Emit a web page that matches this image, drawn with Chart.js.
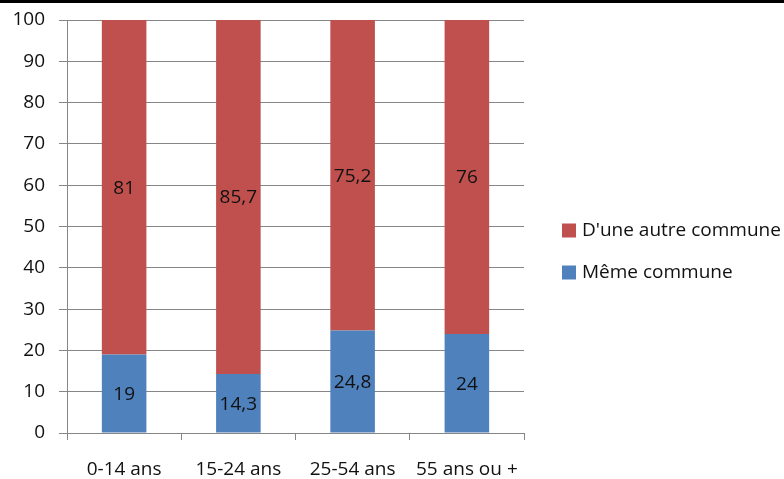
<!DOCTYPE html>
<html>
<head>
<meta charset="utf-8">
<script src="https://cdn.jsdelivr.net/npm/chart.js@4"></script>
<style>
  html, body { margin: 0; padding: 0; background: #fff; }
  #wrap { width: 784px; height: 479px; position: relative; }
</style>
</head>
<body>
<div id="wrap"><canvas id="myChart"></canvas></div>
<script>
const categories = ['0-14 ans', '15-24 ans', '25-54 ans', '55 ans ou +'];
const memeCommune = [19, 14.3, 24.8, 24];
const autreCommune = [81, 85.7, 75.2, 76];
const seriesNames = ['Même commune', "D'une autre commune"];
const yTicks = [0, 10, 20, 30, 40, 50, 60, 70, 80, 90, 100];

const FONT = 'Open Sans';
const FSIZE = 19;
const GRID = '#868686';

// values inside the bars, written like the source (decimal comma)
const barLabels = {
  id: 'barLabels',
  afterDatasetsDraw(chart) {
    const ctx = chart.ctx;
    ctx.save();
    ctx.font = FSIZE + 'px "' + FONT + '"';
    ctx.fillStyle = '#111';
    ctx.textAlign = 'center';
    ctx.textBaseline = 'middle';
    chart.data.datasets.forEach((ds, i) => {
      chart.getDatasetMeta(i).data.forEach((bar, j) => {
        const p = bar.getProps(['x', 'y', 'base'], true);
        ctx.fillText(String(ds.data[j]).replace('.', ','), p.x, (p.y + p.base) / 2 + 1);
      });
    });
    ctx.restore();
  }
};

// legend at the right of the plot, last series on top
// (the built-in one is capped to a quarter of the width and would be cut)
const sideLegend = {
  id: 'sideLegend',
  afterDraw(chart) {
    const ctx = chart.ctx;
    const area = chart.chartArea;
    const x = area.right + 38;
    const y0 = (area.top + area.bottom) / 2 + 4;
    ctx.save();
    ctx.font = FSIZE + 'px "' + FONT + '"';
    ctx.textAlign = 'left';
    ctx.textBaseline = 'middle';
    chart.data.datasets.slice().reverse().forEach((ds, i) => {
      const y = y0 + i * 42;
      ctx.fillStyle = ds.backgroundColor;
      ctx.fillRect(x, y - 7, 14, 14);
      ctx.fillStyle = '#111';
      ctx.fillText(ds.label, x + 20, y);
    });
    ctx.restore();
  }
};

const topRule = {
  id: 'topRule',
  beforeDraw(chart) {
    chart.ctx.save();
    chart.ctx.fillStyle = '#000';
    chart.ctx.fillRect(0, 0, chart.width, 3);
    chart.ctx.restore();
  }
};

function draw() {
  const ctx = document.getElementById('myChart');
  new Chart(ctx, {
    type: 'bar',
    data: {
      labels: categories,
      datasets: [{
        label: seriesNames[0],
        data: memeCommune,
        backgroundColor: '#4F81BD',
        borderWidth: 0
      }, {
        label: seriesNames[1],
        data: autreCommune,
        backgroundColor: '#C0504D',
        borderWidth: 0
      }]
    },
    options: {
      responsive: true,
      maintainAspectRatio: false,
      animation: false,
      layout: { padding: { top: 20, left: 0, bottom: 0, right: 260 } },
      datasets: { bar: { categoryPercentage: 1, barPercentage: 0.39 } },
      scales: {
        x: {
          stacked: true,
          grid: { offset: true, drawOnChartArea: false, color: GRID, tickLength: 7 },
          border: { color: GRID },
          ticks: { color: '#111', font: { family: FONT, size: FSIZE }, padding: 18, maxRotation: 0 },
          afterFit(scale) { scale.height = 46; }
        },
        y: {
          stacked: true,
          min: 0,
          max: 100,
          afterBuildTicks(axis) { axis.ticks = yTicks.map(v => ({ value: v })); },
          grid: { color: GRID, tickLength: 8 },
          border: { color: GRID },
          ticks: { color: '#111', font: { family: FONT, size: FSIZE }, padding: 14 },
          afterFit(scale) {
            scale.width = 67;
            scale.paddingTop = 0;
            scale.paddingBottom = 0;
          }
        }
      },
      plugins: {
        legend: { display: false },
        tooltip: { enabled: false }
      }
    },
    plugins: [barLabels, sideLegend, topRule]
  });
}

document.fonts.load(FSIZE + 'px "' + FONT + '"').then(draw, draw);
</script>
</body>
</html>
